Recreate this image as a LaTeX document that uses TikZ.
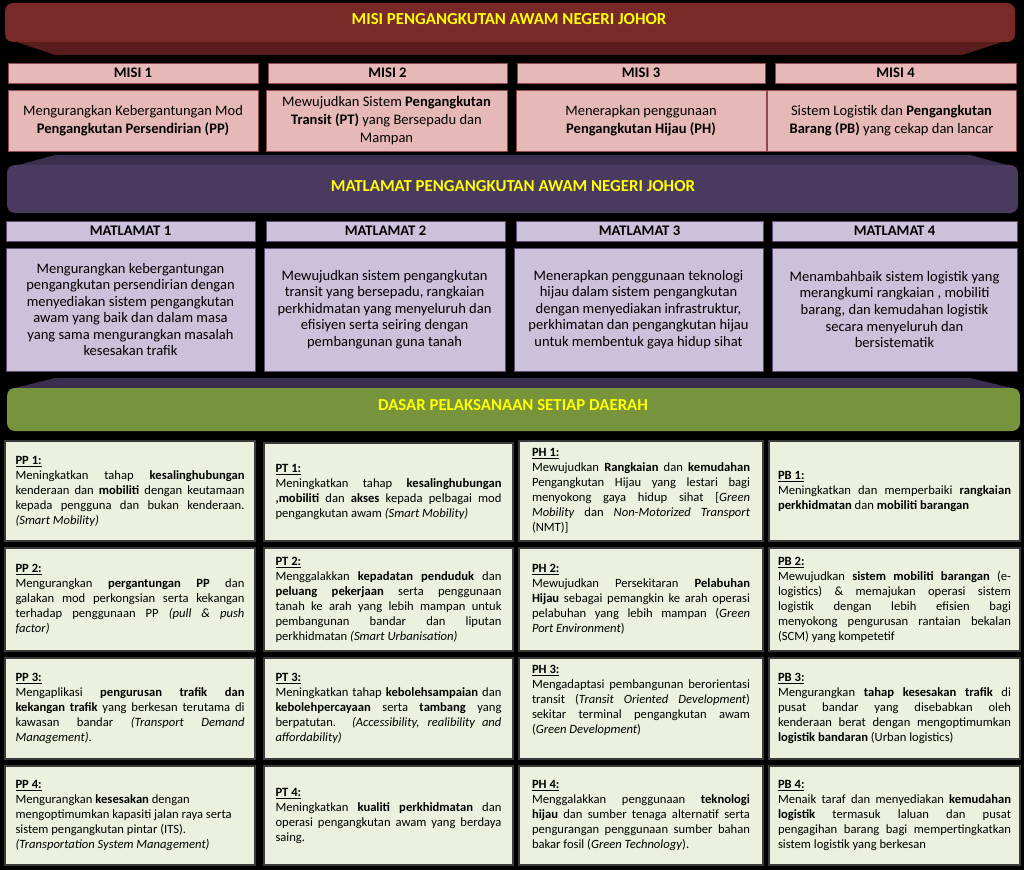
\documentclass[tikz,border=0pt]{standalone}
\usepackage{fontspec}
\setmainfont{Carlito}
\usetikzlibrary{fit}
\tolerance=10000 \pretolerance=-1 \hyphenpenalty=10000 \exhyphenpenalty=10000 \hbadness=10000
\definecolor{redband}{HTML}{7A2929}
\definecolor{redtail}{HTML}{5A1D1D}
\definecolor{purband}{HTML}{4A3A5F}
\definecolor{purtail}{HTML}{3B2E4E}
\definecolor{grnband}{HTML}{77933C}
\definecolor{pinkc}{HTML}{E6B9B8}
\definecolor{pinkd}{HTML}{8E4A4A}
\definecolor{lavc}{HTML}{CCC1DA}
\definecolor{lavd}{HTML}{5E4D70}
\definecolor{grc}{HTML}{EBF1DE}
\definecolor{grd}{HTML}{3A3A3A}
\definecolor{titley}{HTML}{FFFF00}
\newcommand{\lbl}[1]{\underline{\textbf{#1}}}
\begin{document}
\begin{tikzpicture}[x=0.75pt,y=-0.75pt,
  band/.style={rounded corners=6pt, inner sep=0pt},
  pinkbox/.style={fill=pinkc, draw=pinkd, line width=0.5pt, inner sep=0pt},
  lavbox/.style={fill=lavc, draw=lavd, line width=0.5pt, inner sep=0pt},
  grbox/.style={fill=grc, draw=grd, line width=0.9pt, inner sep=0pt},
  hdr/.style={font=\fontsize{11}{13}\selectfont\bfseries, inner sep=0pt},
  mbody/.style={font=\fontsize{10.9}{13.5}\selectfont, align=center, inner sep=0pt},
  tbody/.style={font=\fontsize{10.9}{12.4}\selectfont, align=center, inner sep=0pt},
  gtxt/.style={font=\fontsize{9.45}{11.25}\selectfont, align=justify, inner sep=0pt},
  ttl/.style={font=\fontsize{12.6}{15}\selectfont\bfseries, text=titley, inner sep=0pt},
  c1/.style={text width=171.75pt},
  c2/.style={text width=169.5pt},
  c3/.style={text width=163.5pt},
  c4/.style={text width=174.75pt}]
\fill[black] (0,0) rectangle (1024,870);
\useasboundingbox (0,0) rectangle (1024,870);

% ---------- MISI band ----------
\fill[redtail] (5,38) -- (1015,38) -- (962,55) -- (55,55) -- cycle;
\node[band, fill=redband, fit={(5,3)(1015,42)}] (misiband) {};
\node[ttl] (misititle) at (509,19) {MISI PENGANGKUTAN AWAM NEGERI JOHOR};

\node[pinkbox, fit={(8,63)(258,83)}] (m1h) {};
\node[pinkbox, fit={(268,63)(507,83)}] (m2h) {};
\node[pinkbox, fit={(517,63)(765,83)}] (m3h) {};
\node[pinkbox, fit={(775,63)(1016,83)}] (m4h) {};
\node[hdr] (m1ht) at (m1h.center) {MISI 1};
\node[hdr] (m2ht) at (m2h.center) {MISI 2};
\node[hdr] (m3ht) at (m3h.center) {MISI 3};
\node[hdr] (m4ht) at (m4h.center) {MISI 4};

\node[pinkbox, fit={(8,90)(258,151)}] (m1b) {};
\node[pinkbox, fit={(266,90)(507,151)}] (m2b) {};
\node[pinkbox, fit={(516,90)(766,151)}] (m3b) {};
\node[pinkbox, fit={(767,90)(1016,151)}] (m4b) {};
\node[mbody] (m1bt) at (m1b.center) {Mengurangkan Kebergantungan Mod\\\textbf{Pengangkutan Persendirian (PP)}};
\node[mbody] (m2bt) at (m2b.center) {Mewujudkan Sistem \textbf{Pengangkutan}\\\textbf{Transit (PT)} yang Bersepadu dan\\Mampan};
\node[mbody] (m3bt) at (m3b.center) {Menerapkan penggunaan\\\textbf{Pengangkutan Hijau (PH)}};
\node[mbody] (m4bt) at (m4b.center) {Sistem Logistik dan \textbf{Pengangkutan}\\\textbf{Barang (PB)} yang cekap dan lancar};

% ---------- MATLAMAT band ----------
\fill[purtail] (55,155) -- (970,155) -- (1018,168) -- (7,168) -- cycle;
\node[band, fill=purband, fit={(7,165)(1018,213)}] (matband) {};
\node[ttl] (mattitle) at (513,186) {MATLAMAT PENGANGKUTAN AWAM NEGERI JOHOR};

\node[lavbox, fit={(6,221)(255,241)}] (t1h) {};
\node[lavbox, fit={(266,221)(505,241)}] (t2h) {};
\node[lavbox, fit={(516,221)(763,241)}] (t3h) {};
\node[lavbox, fit={(772,221)(1017,241)}] (t4h) {};
\node[hdr] (t1ht) at (t1h.center) {MATLAMAT 1};
\node[hdr] (t2ht) at (t2h.center) {MATLAMAT 2};
\node[hdr] (t3ht) at (t3h.center) {MATLAMAT 3};
\node[hdr] (t4ht) at (t4h.center) {MATLAMAT 4};

\node[lavbox, fit={(6,248)(255,371)}] (t1b) {};
\node[lavbox, fit={(264,248)(505,371)}] (t2b) {};
\node[lavbox, fit={(514,248)(763,371)}] (t3b) {};
\node[lavbox, fit={(772,248)(1017,371)}] (t4b) {};
\node[tbody] (t1bt) at (t1b.center) {Mengurangkan kebergantungan\\pengangkutan persendirian dengan\\menyediakan sistem pengangkutan\\awam yang baik dan dalam masa\\yang sama mengurangkan masalah\\kesesakan trafik};
\node[tbody] (t2bt) at (t2b.center) {Mewujudkan sistem pengangkutan\\transit yang bersepadu, rangkaian\\perkhidmatan yang menyeluruh dan\\efisiyen serta seiring dengan\\pembangunan guna tanah};
\node[tbody] (t3bt) at (t3b.center) {Menerapkan penggunaan teknologi\\hijau dalam sistem pengangkutan\\dengan menyediakan infrastruktur,\\perkhimatan dan pengangkutan hijau\\untuk membentuk gaya hidup sihat};
\node[tbody] (t4bt) at (t4b.center) {Menambahbaik sistem logistik yang\\merangkumi rangkaian , mobiliti\\barang, dan kemudahan logistik\\secara menyeluruh dan\\bersistematik};

% ---------- DASAR band ----------
\fill[purtail] (55,378) -- (970,378) -- (1020,390) -- (7,390) -- cycle;
\node[band, fill=grnband, fit={(7,388)(1020,431)}] (dasband) {};
\node[ttl] (dastitle) at (513,405) {DASAR PELAKSANAAN SETIAP DAERAH};

% ---------- boxes ----------
\node[grbox, fit={(5,441)(255,541)}] (pp1) {};
\node[grbox, fit={(5,548)(255,651)}] (pp2) {};
\node[grbox, fit={(5,658)(255,759)}] (pp3) {};
\node[grbox, fit={(5,766)(255,865)}] (pp4) {};
\node[grbox, fit={(264,443)(513,541)}] (pt1) {};
\node[grbox, fit={(264,548)(513,651)}] (pt2) {};
\node[grbox, fit={(264,658)(513,759)}] (pt3) {};
\node[grbox, fit={(264,766)(513,865)}] (pt4) {};
\node[grbox, fit={(519,441)(763,541)}] (ph1) {};
\node[grbox, fit={(519,548)(763,651)}] (ph2) {};
\node[grbox, fit={(519,658)(763,759)}] (ph3) {};
\node[grbox, fit={(519,766)(763,865)}] (ph4) {};
\node[grbox, fit={(769,441)(1020,541)}] (pb1) {};
\node[grbox, fit={(769,548)(1020,651)}] (pb2) {};
\node[grbox, fit={(769,658)(1020,759)}] (pb3) {};
\node[grbox, fit={(769,766)(1020,865)}] (pb4) {};

% ---------- PP texts ----------
\node[gtxt, c1] (pp1t) at (pp1.center) {\lbl{PP 1:}\\Meningkatkan tahap \textbf{kesalinghubungan}\linebreak kenderaan dan \textbf{mobiliti} dengan keutamaan\linebreak kepada pengguna dan bukan kenderaan.\linebreak \textit{(Smart Mobility)}};
\node[gtxt, c1] (pp2t) at (pp2.center) {\lbl{PP 2:}\\Mengurangkan \textbf{pergantungan PP} dan\linebreak galakan mod perkongsian serta kekangan\linebreak terhadap penggunaan PP \textit{(pull \& push}\linebreak \textit{factor)}};
\node[gtxt, c1] (pp3t) at (pp3.center) {\lbl{PP 3:}\\Mengaplikasi \textbf{pengurusan trafik dan}\linebreak \textbf{kekangan trafik} yang berkesan terutama di\linebreak kawasan bandar \textit{(Transport Demand}\linebreak \textit{Management)}.};
\node[gtxt, c1] (pp4t) at (pp4.center) {\lbl{PP 4:}\\Mengurangkan \textbf{kesesakan} dengan\\mengoptimumkan kapasiti jalan raya serta\\sistem pengangkutan pintar (ITS).\\\textit{(Transportation System Management)}};

% ---------- PT texts ----------
\node[gtxt, c2] (pt1t) at (pt1.center) {\lbl{PT 1:}\\Meningkatkan tahap \textbf{kesalinghubungan}\linebreak \textbf{,mobiliti} dan \textbf{akses} kepada pelbagai mod\linebreak pengangkutan awam \textit{(Smart Mobility)}};
\node[gtxt, c2] (pt2t) at (pt2.center) {\lbl{PT 2:}\\Menggalakkan \textbf{kepadatan penduduk} dan\linebreak \textbf{peluang pekerjaan} serta penggunaan\linebreak tanah ke arah yang lebih mampan untuk\linebreak pembangunan bandar dan liputan\linebreak perkhidmatan \textit{(Smart Urbanisation)}};
\node[gtxt, c2] (pt3t) at (pt3.center) {\lbl{PT 3:}\\Meningkatkan tahap \textbf{kebolehsampaian} dan\linebreak \textbf{kebolehpercayaan} serta \textbf{tambang} yang\linebreak berpatutan. \textit{(Accessibility, realibility and}\linebreak \textit{affordability)}};
\node[gtxt, c2] (pt4t) at (pt4.center) {\lbl{PT 4:}\\Meningkatkan \textbf{kualiti perkhidmatan} dan\linebreak operasi pengangkutan awam yang berdaya\linebreak saing.};

% ---------- PH texts ----------
\node[gtxt, c3] (ph1t) at (ph1.center) {\lbl{PH 1:}\\Mewujudkan \textbf{Rangkaian} dan \textbf{kemudahan}\linebreak Pengangkutan Hijau yang lestari bagi\linebreak menyokong gaya hidup sihat [\textit{Green}\linebreak \textit{Mobility} dan \textit{Non-Motorized Transport}\linebreak (NMT)]};
\node[gtxt, c3] (ph2t) at (ph2.center) {\lbl{PH 2:}\\Mewujudkan Persekitaran \textbf{Pelabuhan}\linebreak \textbf{Hijau} sebagai pemangkin ke arah operasi\linebreak pelabuhan yang lebih mampan (\textit{Green}\linebreak \textit{Port Environment})};
\node[gtxt, c3] (ph3t) at ([yshift=6pt]ph3.center) {\lbl{PH 3:}\\Mengadaptasi pembangunan berorientasi\linebreak transit (\textit{Transit Oriented Development})\linebreak sekitar terminal pengangkutan awam\linebreak (\textit{Green Development})};
\node[gtxt, c3] (ph4t) at (ph4.center) {\lbl{PH 4:}\\Menggalakkan penggunaan \textbf{teknologi}\linebreak \textbf{hijau} dan sumber tenaga alternatif serta\linebreak pengurangan penggunaan sumber bahan\linebreak bakar fosil (\textit{Green Technology}).};

% ---------- PB texts ----------
\node[gtxt, c4] (pb1t) at (pb1.center) {\lbl{PB 1:}\\Meningkatkan dan memperbaiki \textbf{rangkaian}\linebreak \textbf{perkhidmatan} dan \textbf{mobiliti barangan}};
\node[gtxt, c4] (pb2t) at (pb2.center) {\lbl{PB 2:}\\Mewujudkan \textbf{sistem mobiliti barangan} (e-\linebreak logistics) \& memajukan operasi sistem\linebreak logistik dengan lebih efisien bagi\linebreak menyokong pengurusan rantaian bekalan\linebreak (SCM) yang kompetetif};
\node[gtxt, c4] (pb3t) at (pb3.center) {\lbl{PB 3:}\\Mengurangkan \textbf{tahap kesesakan trafik} di\linebreak pusat bandar yang disebabkan oleh\linebreak kenderaan berat dengan mengoptimumkan\linebreak \textbf{logistik bandaran} (Urban logistics)};
\node[gtxt, c4] (pb4t) at (pb4.center) {\lbl{PB 4:}\\Menaik taraf dan menyediakan \textbf{kemudahan}\linebreak \textbf{logistik} termasuk laluan dan pusat\linebreak pengagihan barang bagi mempertingkatkan\linebreak sistem logistik yang berkesan};
\end{tikzpicture}
\end{document}
